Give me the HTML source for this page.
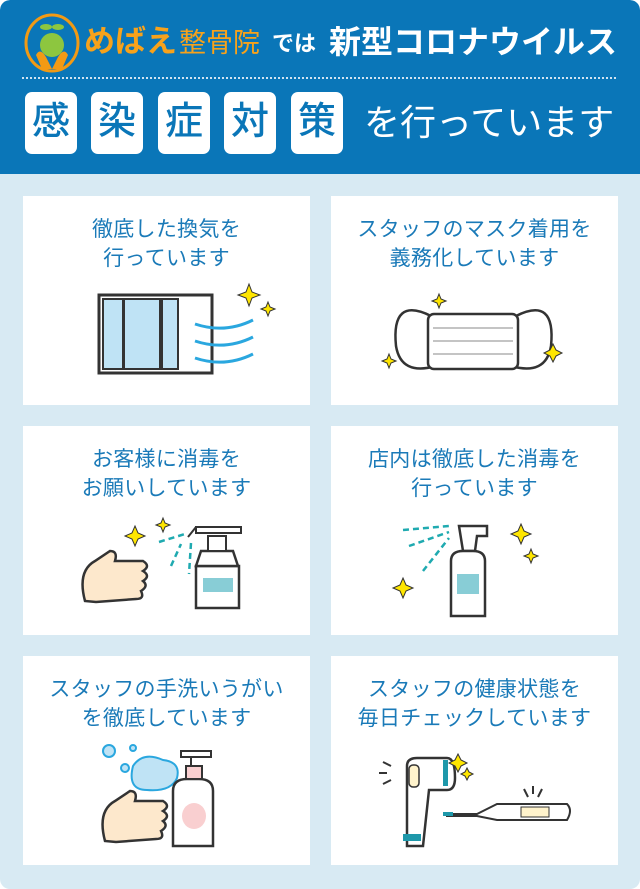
<!DOCTYPE html>
<html><head><meta charset="utf-8"><style>
*{margin:0;padding:0;box-sizing:border-box}
body{width:640px;height:889px;background:#fff;font-family:"Liberation Sans","Noto Sans CJK JP",sans-serif;overflow:hidden}
.wrap{position:absolute;left:0;top:0;width:640px;height:889px;background:#d8eaf3;border-radius:10px;overflow:hidden}
.head{position:absolute;left:0;top:0;width:640px;height:174px;background:#0a76b8;border-radius:10px 10px 0 0}
.t{position:absolute;white-space:nowrap;line-height:1}
.dots{position:absolute;left:22px;top:77px;width:594px;border-top:2px dotted #cfe3f1}
.box{position:absolute;top:92px;width:52px;height:62px;background:#fff;border-radius:7px;color:#0a76b8;font-size:38px;font-weight:500;text-align:center;line-height:60px}
.card{position:absolute;width:287px;height:209px;background:#fff}
.card p{position:absolute;top:19px;left:0;width:100%;text-align:center;color:#1a7ab8;font-size:21px;line-height:29px;letter-spacing:.3px;white-space:nowrap}
.card svg{position:absolute;left:0;top:0}
</style></head><body><div class="wrap">
<div class="head">
<svg style="position:absolute;left:24px;top:13px" width="60" height="60">
<ellipse cx="28" cy="30" rx="26" ry="28" fill="none" stroke="#f29a14" stroke-width="3"/>
<path d="M12 42 Q16 34 22 44 L28 56 L34 44 Q40 34 44 42 L38 56 L18 56Z" fill="#f29a14"/>
<circle cx="28" cy="32" r="12" fill="#8dc63f"/>
<ellipse cx="22" cy="14" rx="6" ry="3" fill="#8dc63f"/><ellipse cx="34" cy="14" rx="6" ry="3" fill="#8dc63f"/>
</svg>
<div class="t" style="left:84px;top:26px;color:#f7a21b;font-size:31px;font-weight:bold">めばえ</div>
<div class="t" style="left:179px;top:30px;color:#f7a21b;font-size:27px">整骨院</div>
<div class="t" style="left:272px;top:33px;color:#fff;font-size:22px;font-weight:bold">では</div>
<div class="t" style="left:329px;top:26px;color:#fff;font-size:32px;font-weight:bold">新型コロナウイルス</div>
<div class="dots"></div>
<div class="box" style="left:25px">感</div>
<div class="box" style="left:91px">染</div>
<div class="box" style="left:158px">症</div>
<div class="box" style="left:224px">対</div>
<div class="box" style="left:291px">策</div>
<div class="t" style="left:364px;top:105px;color:#fff;font-size:36px">を行っています</div>
</div>

<div class="card" style="left:23px;top:196px"><p>徹底した換気を<br>行っています</p>
<svg width="287" height="209"><rect x="76" y="99" width="113" height="78" fill="#fff" stroke="#333" stroke-width="3"/>
<rect x="80" y="103" width="20" height="70" fill="#bfe3f5" stroke="#333" stroke-width="2"/>
<rect x="101" y="103" width="36" height="70" fill="#bfe3f5" stroke="#333" stroke-width="2"/>
<rect x="139" y="103" width="16" height="70" fill="#bfe3f5" stroke="#333" stroke-width="2"/>
<g fill="none" stroke="#2aa7df" stroke-width="3"><path d="M172 128 q30 10 58 -4"/><path d="M172 145 q30 10 58 -4"/><path d="M172 162 q30 10 58 -4"/></g>
<path d="M226 88 l3 8 8 3 -8 3 -3 8 -3 -8 -8 -3 8 -3z" fill="#ffe600" stroke="#333"/>
<path d="M245 106 l2 5 5 2 -5 2 -2 5 -2 -5 -5 -2 5 -2z" fill="#ffe600" stroke="#333"/></svg></div>

<div class="card" style="left:331px;top:196px"><p>スタッフのマスク着用を<br>義務化しています</p>
<svg width="287" height="209"><path d="M100 120 q-40 -20 -35 30 q5 30 40 20" fill="#fff" stroke="#333" stroke-width="2.5"/>
<path d="M185 120 q40 -20 35 30 q-5 30 -40 20" fill="#fff" stroke="#333" stroke-width="2.5"/>
<rect x="97" y="118" width="90" height="55" rx="6" fill="#fff" stroke="#333" stroke-width="2.5"/>
<g stroke="#888"><line x1="102" y1="132" x2="182" y2="132"/><line x1="102" y1="145" x2="182" y2="145"/><line x1="102" y1="158" x2="182" y2="158"/></g>
<path d="M108 98 l2 5 5 2 -5 2 -2 5 -2 -5 -5 -2 5 -2z" fill="#ffe600" stroke="#333"/>
<path d="M58 158 l2 5 5 2 -5 2 -2 5 -2 -5 -5 -2 5 -2z" fill="#ffe600" stroke="#333"/>
<path d="M222 148 l3 6 6 3 -6 3 -3 6 -3 -6 -6 -3 6 -3z" fill="#ffe600" stroke="#333"/></svg></div>

<div class="card" style="left:23px;top:426px"><p>お客様に消毒を<br>お願いしています</p>
<svg width="287" height="209"><path d="M62 175 q-8 -30 10 -40 l15 -10 q8 0 5 10 l28 0 q8 5 0 10 q8 5 0 10 q6 5 -2 10 q4 8 -5 8 l-40 3z" fill="#fde8cc" stroke="#333" stroke-width="2.5"/>
<rect x="173" y="140" width="43" height="42" fill="#fff" stroke="#333" stroke-width="2.5"/>
<rect x="180" y="152" width="30" height="14" fill="#88cdd6"/>
<path d="M178 125 l32 0 5 15 -42 0z" fill="#fff" stroke="#333" stroke-width="2.5"/>
<rect x="185" y="110" width="18" height="15" fill="#fff" stroke="#333" stroke-width="2"/>
<path d="M173 101 l45 0 0 6 -45 0z M173 101 l-8 10" fill="#fff" stroke="#333" stroke-width="2"/>
<g stroke="#1faab0" stroke-width="2.5" stroke-dasharray="6 4"><line x1="136" y1="116" x2="162" y2="108"/><line x1="148" y1="140" x2="158" y2="118"/><line x1="168" y1="117" x2="166" y2="148"/></g>
<path d="M112 100 l3 7 7 3 -7 3 -3 7 -3 -7 -7 -3 7 -3z" fill="#ffe600" stroke="#333"/>
<path d="M118 96 l2 5 5 2 -5 2 -2 5 -2 -5 -5 -2 5 -2z" transform="translate(22,-4)" fill="#ffe600" stroke="#333"/></svg></div>

<div class="card" style="left:331px;top:426px"><p>店内は徹底した消毒を<br>行っています</p>
<svg width="287" height="209"><path d="M128 100 l28 0 0 10 -10 0 -2 15 -12 0z" fill="#fff" stroke="#333" stroke-width="2.5"/>
<path d="M120 135 q0 -10 12 -10 l10 0 q12 0 12 10 l0 55 -34 0z" fill="#fff" stroke="#333" stroke-width="2.5"/>
<rect x="126" y="148" width="22" height="20" fill="#88cdd6"/>
<g stroke="#1faab0" stroke-width="2.5" stroke-dasharray="6 4"><line x1="72" y1="104" x2="118" y2="100"/><line x1="78" y1="120" x2="118" y2="106"/><line x1="92" y1="145" x2="118" y2="112"/></g>
<path d="M190 98 l3 7 7 3 -7 3 -3 7 -3 -7 -7 -3 7 -3z" fill="#ffe600" stroke="#333"/>
<path d="M200 123 l2 5 5 2 -5 2 -2 5 -2 -5 -5 -2 5 -2z" fill="#ffe600" stroke="#333"/>
<path d="M72 152 l3 7 7 3 -7 3 -3 7 -3 -7 -7 -3 7 -3z" fill="#ffe600" stroke="#333"/></svg></div>

<div class="card" style="left:23px;top:656px"><p>スタッフの手洗いうがい<br>を徹底しています</p>
<svg width="287" height="209"><path d="M82 185 q-8 -30 10 -40 l15 -10 q8 0 5 10 l28 0 q8 5 0 10 q8 5 0 10 q6 5 -2 10 q4 8 -5 8 l-40 3z" fill="#fde8cc" stroke="#333" stroke-width="2.5"/>
<path d="M110 110 q10 -15 30 -6 q18 2 14 18 q-6 14 -30 12 q-20 0 -14 -24z" fill="#bfe3f5" stroke="#2aa7df" stroke-width="2"/>
<circle cx="86" cy="95" r="6" fill="#bfe3f5" stroke="#2aa7df" stroke-width="2"/><circle cx="102" cy="112" r="4" fill="#bfe3f5" stroke="#2aa7df" stroke-width="2"/><circle cx="110" cy="92" r="3" fill="#bfe3f5" stroke="#2aa7df" stroke-width="2"/>
<path d="M150 135 q0 -12 14 -12 l12 0 q14 0 14 12 l0 55 -40 0z" fill="#fff" stroke="#333" stroke-width="2.5"/>
<ellipse cx="171" cy="160" rx="12" ry="13" fill="#f9cfd0"/>
<rect x="163" y="110" width="16" height="13" fill="#f9cfd0" stroke="#333" stroke-width="2"/>
<path d="M158 95 l30 0 0 6 -30 0z M168 101 l0 9" fill="#fff" stroke="#333" stroke-width="2"/></svg></div>

<div class="card" style="left:331px;top:656px"><p>スタッフの健康状態を<br>毎日チェックしています</p>
<svg width="287" height="209"><path d="M76 110 q0 -8 10 -8 l30 0 q8 0 8 20 q0 12 -8 12 l-18 0 -6 56 -16 0z" fill="#fff" stroke="#333" stroke-width="2.5"/>
<rect x="72" y="178" width="18" height="7" fill="#1e98aa"/><rect x="112" y="104" width="5" height="26" fill="#1e98aa"/>
<rect x="78" y="109" width="10" height="22" rx="4" fill="#fff3cc" stroke="#333" stroke-width="1.5"/>
<path d="M116 158 l30 0 l20 -10 l70 0 q6 6 0 16 l-70 0 -20 -4 -30 0z" fill="#fff" stroke="#333" stroke-width="2"/>
<rect x="190" y="151" width="28" height="10" fill="#fff3cc" stroke="#333"/><rect x="112" y="156" width="10" height="4" fill="#1e98aa"/>
<g stroke="#333" stroke-width="2"><line x1="52" y1="106" x2="60" y2="110"/><line x1="48" y1="117" x2="56" y2="117"/><line x1="52" y1="128" x2="60" y2="124"/><line x1="193" y1="133" x2="197" y2="141"/><line x1="202" y1="130" x2="202" y2="138"/><line x1="211" y1="133" x2="207" y2="141"/></g>
<path d="M127 98 l3 6 6 3 -6 3 -3 6 -3 -6 -6 -3 6 -3z" fill="#ffe600" stroke="#333"/>
<path d="M136 112 l2 4 4 2 -4 2 -2 4 -2 -4 -4 -2 4 -2z" fill="#ffe600" stroke="#333"/></svg></div>
</div></body></html>
